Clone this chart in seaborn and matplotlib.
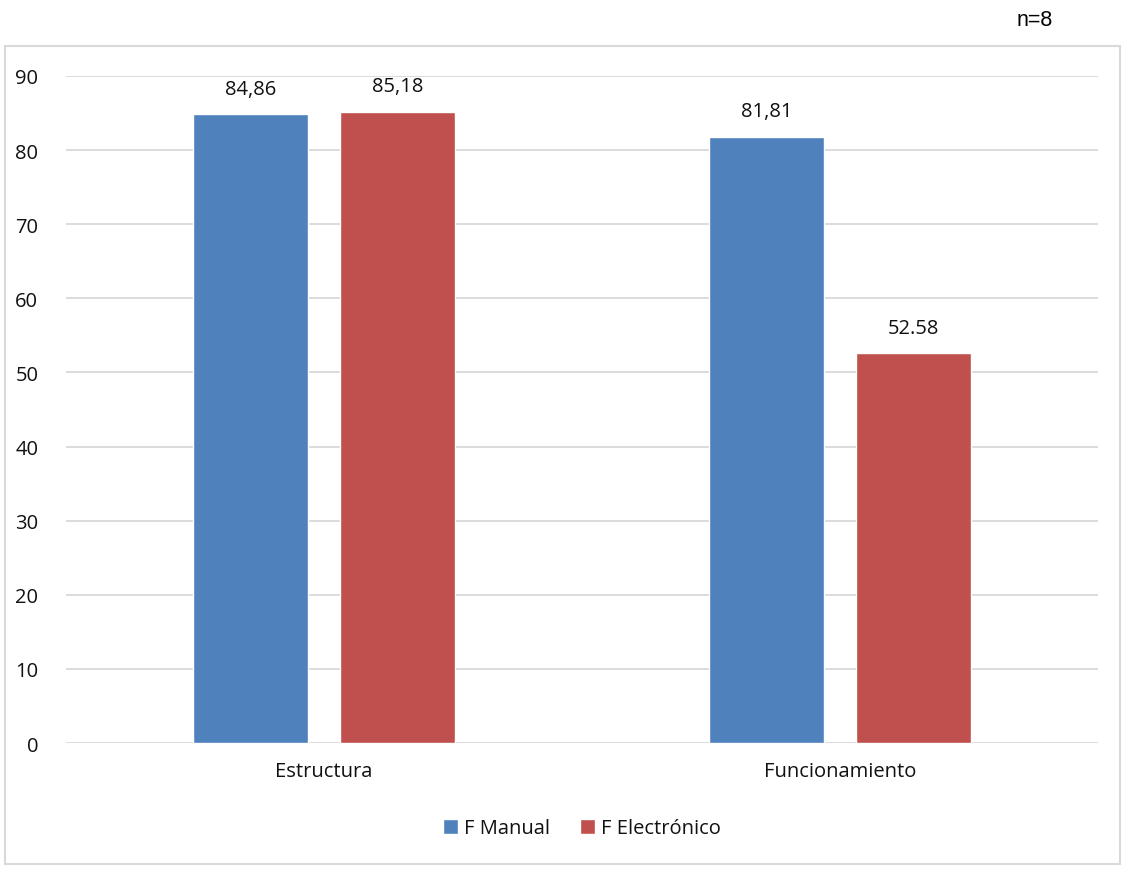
import matplotlib
matplotlib.use("Agg")
import matplotlib.pyplot as plt
import seaborn as sns
import pandas as pd
from matplotlib.patches import Rectangle

# Data
categories = ["Estructura", "Funcionamiento"]
series = ["F Manual", "F Electrónico"]
manual_values = [84.86, 81.81]
electronic_values = [85.18, 52.58]
value_labels = {
    ("Estructura", "F Manual"): "84,86",
    ("Estructura", "F Electrónico"): "85,18",
    ("Funcionamiento", "F Manual"): "81,81",
    ("Funcionamiento", "F Electrónico"): "52.58",
}
y_ticks = [0, 10, 20, 30, 40, 50, 60, 70, 80, 90]

df = pd.DataFrame({
    "categoria": categories * 2,
    "serie": [series[0]] * 2 + [series[1]] * 2,
    "valor": manual_values + electronic_values,
})

sns.set_theme(style="white")
plt.rcParams["font.family"] = ["Open Sans", "DejaVu Sans"]

FS = 14.5
TXT = "#111111"

fig = plt.figure(figsize=(11.27, 8.70), dpi=100)
ax = fig.add_axes([0.0586, 0.1448, 0.9157, 0.7667])

palette = {"F Manual": "#4F81BD", "F Electrónico": "#C0504D"}
sns.barplot(data=df, x="categoria", y="valor", hue="serie", order=categories,
            hue_order=series, palette=palette, width=0.57, gap=0.218,
            saturation=1, ax=ax, legend=True, zorder=3)

ax.set_ylim(0, 90)
ax.set_xlim(-0.5, 1.5)
ax.set_yticks(y_ticks)
ax.set_yticklabels([str(t) for t in y_ticks], fontsize=FS, color=TXT)
ax.tick_params(axis="x", labelsize=FS, colors=TXT, pad=13, length=0)
ax.tick_params(axis="y", pad=20, length=0)
ax.set_xlabel("")
ax.set_ylabel("")
ax.grid(axis="y", color="#D9D9D9", linewidth=1.3, zorder=0)
ax.set_axisbelow(True)
for s in ax.spines.values():
    s.set_visible(False)

# Value labels above bars
for container, serie in zip(ax.containers, series):
    for bar, cat in zip(container, categories):
        ax.annotate(value_labels[(cat, serie)],
                    (bar.get_x() + bar.get_width() / 2, bar.get_height()),
                    xytext=(0, 11), textcoords="offset points",
                    ha="center", va="bottom", fontsize=FS, color=TXT)

leg = ax.legend(loc="center", bbox_to_anchor=(0.5, -0.128), ncol=2,
                frameon=False, fontsize=FS, handlelength=0.75, handleheight=0.75,
                handletextpad=0.3, columnspacing=1.5)
for t in leg.get_texts():
    t.set_color(TXT)

# Chart border
fig.patches.append(Rectangle((5 / 1127, 5 / 870), 1115 / 1127, 818 / 870,
                             transform=fig.transFigure, fill=False,
                             edgecolor="#D9D9D9", linewidth=1.5))

fig.text(1053 / 1127, 1 - 20 / 870, "n=8", ha="right", va="center",
         fontsize=15.5, family=["Liberation Sans Narrow", "Liberation Sans", "DejaVu Sans"],
         color="#000000")

fig.savefig("out.png", dpi=100, facecolor="white")
